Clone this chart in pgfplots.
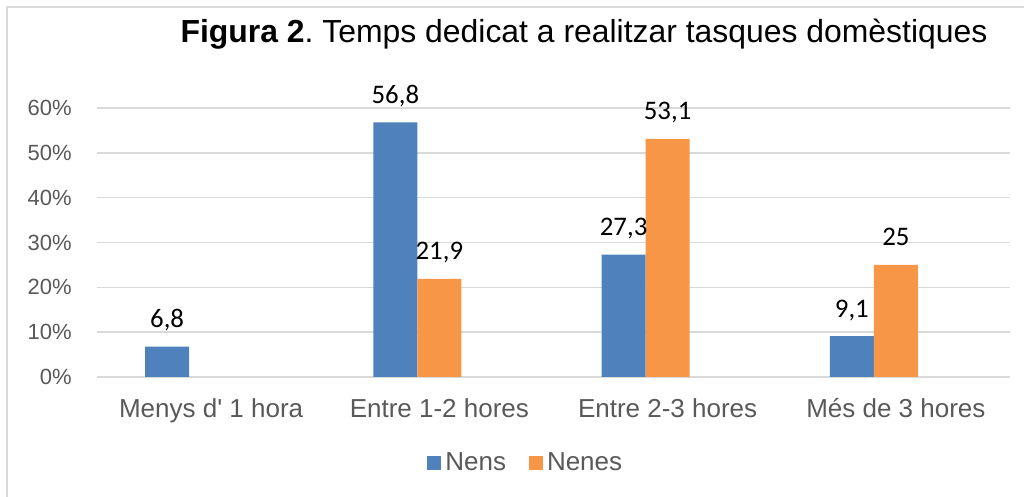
\documentclass[border=0pt]{standalone}
\usepackage{pgfplots}
\pgfplotsset{compat=1.18}
\usepackage{fontspec}
\setmainfont{Liberation Sans}
\newfontfamily\calibri{Carlito}
\definecolor{nensblue}{HTML}{4F81BD}
\definecolor{nenesorange}{HTML}{F79646}
\definecolor{gridgray}{HTML}{D9D9D9}
\definecolor{textgray}{HTML}{595959}
\begin{document}
\begin{tikzpicture}
\path[use as bounding box] (0,0) rectangle (512pt,248.5pt);
\draw[gridgray, line width=0.9pt] (3.5pt,-10pt) -- (3.5pt,245pt) -- (530pt,245pt);
\node[anchor=base, inner sep=0pt, font=\fontsize{15.95}{18}\selectfont] at (292pt,227pt)
  {\frenchspacing\textbf{Figura 2}.\ Temps dedicat a realitzar tasques domèstiques};
\begin{axis}[
  at={(48.5pt,60pt)}, anchor=south west,
  scale only axis, width=456.5pt, height=134.5pt,
  ybar, bar width=22pt,
  xmin=-0.5, xmax=3.5, ymin=0, ymax=60,
  xtick={0,1,2,3},
  xticklabels={Menys d\textquotesingle\ 1 hora, Entre 1-2 hores, Entre 2-3 hores, Més de 3 hores},
  ytick={0,10,20,30,40,50,60},
  yticklabels={0\%,10\%,20\%,30\%,40\%,50\%,60\%},
  ymajorgrids, grid style={gridgray, line width=0.75pt},
  axis line style={draw=none},
  major tick length=0pt,
  clip=false,
  yticklabel style={font=\fontsize{11}{13}\selectfont, text=textgray, inner sep=0pt, anchor=east, xshift=-12.5pt},
  xticklabel style={font=\fontsize{13}{15}\selectfont, text=textgray, inner sep=0pt, anchor=base, yshift=-20.5pt},
  nodes near coords={\pgfmathprintnumber[use comma, assume math mode=true]{\pgfplotspointmeta}},
  every node near coord/.append style={font=\calibri\fontsize{13.4}{16}\selectfont, text=black, anchor=base, inner sep=0pt, yshift=9.5pt},
  legend style={at={(0.4707,-0.32)}, anchor=center, draw=none, legend columns=2,
    font=\fontsize{13}{15}\selectfont, text=textgray,
    /tikz/every even column/.append style={column sep=9.5pt}},
  legend image code/.code={\fill[#1] (0pt,-3.5pt) rectangle (7pt,3.5pt);},
]
\addplot[fill=nensblue, draw=none, bar shift=-22pt] coordinates {(0,6.8) (1,56.8) (2,27.3) (3,9.1)};
\addplot[fill=nenesorange, draw=none, bar shift=0pt] coordinates {(1,21.9) (2,53.1) (3,25)};
\legend{Nens, Nenes}
\end{axis}
\end{tikzpicture}
\end{document}
